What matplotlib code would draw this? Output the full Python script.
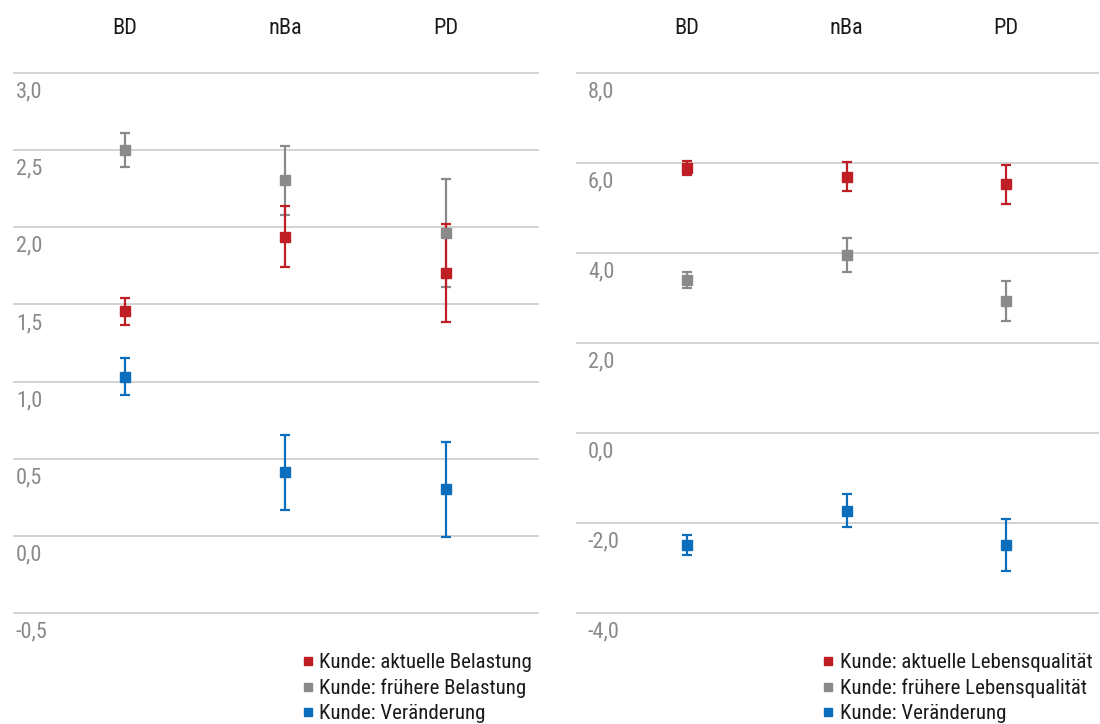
import matplotlib
matplotlib.use("Agg")
import matplotlib.pyplot as plt
from matplotlib import font_manager
from matplotlib.transforms import blended_transform_factory, ScaledTranslation
from matplotlib.lines import Line2D

# pick a narrow sans if there is one
installed = {f.name for f in font_manager.fontManager.ttflist}
family = 'DejaVu Sans'
for cand in ['Liberation Sans Narrow', 'Roboto Condensed', 'Open Sans Condensed', 'Noto Sans Display']:
    if cand in installed:
        family = cand
        break
plt.rcParams['font.family'] = [family, 'DejaVu Sans']

cats = ['BD', 'nBa', 'PD']

# Belastung (left)
bel_aktuell = [1.455, 1.94, 1.705]
bel_aktuell_err = [0.09, 0.20, 0.32]
bel_frueher = [2.50, 2.305, 1.965]
bel_frueher_err = [0.11, 0.225, 0.35]
bel_diff = [1.03, 0.41, 0.30]
bel_diff_err = [0.12, 0.245, 0.31]
bel_ticks = [-0.5, 0.0, 0.5, 1.0, 1.5, 2.0, 2.5, 3.0]

# Lebensqualitaet (right)
lq_aktuell = [5.89, 5.70, 5.53]
lq_aktuell_err = [0.155, 0.33, 0.43]
lq_frueher = [3.40, 3.96, 2.94]
lq_frueher_err = [0.17, 0.37, 0.45]
lq_diff = [-2.50, -1.73, -2.50]
lq_diff_err = [0.22, 0.37, 0.58]
lq_ticks = [-4.0, -2.0, 0.0, 2.0, 4.0, 6.0, 8.0]

red = '#be1e24'
grey = '#8a8a8a'
blue = '#0a6ebd'

fig = plt.figure(figsize=(11, 7.24), dpi=100)
ax1 = fig.add_axes([0.0127, 0.1537, 0.4764, 0.7451])
ax2 = fig.add_axes([0.5245, 0.1537, 0.4736, 0.7451])


def panel(ax, series, ticks, labels, label_dx):
    x = range(len(cats))
    for vals, errs, col in series:
        ax.errorbar(x, vals, yerr=errs, fmt='s', color=col, ecolor=col,
                    markersize=7.2, elinewidth=1.6, capsize=3.6, capthick=1.6,
                    zorder=3)
    ax.set_xlim(-0.69, 2.575)
    ax.set_ylim(ticks[0], ticks[-1])
    ax.set_yticks(ticks)
    ax.set_yticklabels([])
    ax.grid(axis='y', color='#d2d2d2', linewidth=1.4)
    ax.set_axisbelow(True)
    for gl in ax.get_ygridlines():
        gl.set_clip_on(False)
    for s in ax.spines.values():
        s.set_visible(False)
    ax.tick_params(axis='y', length=0)
    ax.xaxis.tick_top()
    ax.set_xticks(list(x))
    ax.set_xticklabels(cats, fontsize=16, color='#1a1a1a')
    ax.tick_params(axis='x', length=0, pad=25)
    trans = blended_transform_factory(ax.transAxes, ax.transData)
    off = ScaledTranslation(label_dx / 100, -0.19, fig.dpi_scale_trans)
    for t in ticks:
        ax.text(0, t, f'{t:.1f}'.replace('.', ','), transform=trans + off,
                ha='left', va='center', fontsize=16, color='#8a8a8a')
    handles = [Line2D([], [], marker='s', linestyle='none', color=c, markersize=6.3)
               for c in (red, grey, blue)]
    ax.legend(handles, labels, loc='upper right', bbox_to_anchor=(1.005, -0.06),
              frameon=False, fontsize=15, handlelength=0.5, handletextpad=0.3,
              labelspacing=0.3, borderaxespad=0, labelcolor='#1a1a1a')


panel(ax1,
      [(bel_frueher, bel_frueher_err, grey),
       (bel_aktuell, bel_aktuell_err, red),
       (bel_diff, bel_diff_err, blue)],
      bel_ticks,
      ['Kunde: aktuelle Belastung', 'Kunde: frühere Belastung', 'Kunde: Veränderung'],
      2)
panel(ax2,
      [(lq_frueher, lq_frueher_err, grey),
       (lq_aktuell, lq_aktuell_err, red),
       (lq_diff, lq_diff_err, blue)],
      lq_ticks,
      ['Kunde: aktuelle Lebensqualität', 'Kunde: frühere Lebensqualität', 'Kunde: Veränderung'],
      11)

fig.savefig('out.png', dpi=100)
